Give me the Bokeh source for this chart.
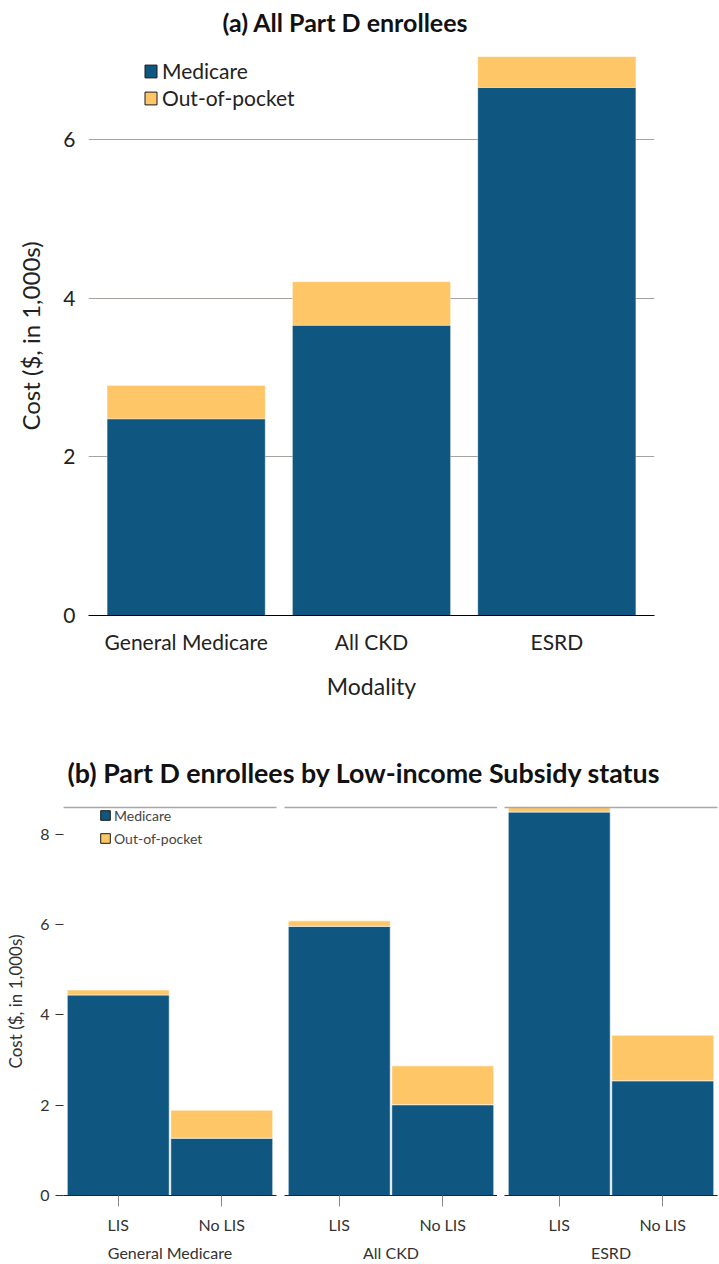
from bokeh.plotting import figure
from bokeh.models import (FactorRange, Range1d, Legend, LegendItem, CategoricalAxis,
                          ColumnDataSource, FixedTicker)
from bokeh.layouts import column, row
from bokeh.embed import file_html
from bokeh.resources import INLINE

FONT = "Lato"
BLUE = "#0f5680"
GOLD = "#fec666"
GRID = "#a8a29e"

# ---------------- data: panel (a) ----------------
modalities = ["General Medicare", "All CKD", "ESRD"]
medicare_all = [2.48, 3.66, 6.66]
oop_all = [0.42, 0.55, 0.39]

# ---------------- data: panel (b) ----------------
lis_groups = ["General Medicare", "All CKD", "ESRD"]
lis_status = ["LIS", "No LIS"]
medicare_lis = [4.44, 5.96, 8.49]
oop_lis = [0.11, 0.12, 0.10]
medicare_nolis = [1.27, 2.01, 2.54]
oop_nolis = [0.62, 0.86, 1.01]

series = ["medicare", "oop"]
series_labels = ["Medicare", "Out-of-pocket"]
colors = [BLUE, GOLD]

FRAME_LEFT_A = 88  # column layout aligns header frames with panel (a)'s frame


def header(text, height, top, size, left):
    h = figure(width=719, height=height, output_backend="svg", toolbar_location=None,
               x_range=Range1d(0, 1), y_range=Range1d(0, 1),
               min_border_left=0, min_border_right=0, min_border_bottom=0,
               min_border_top=top, x_axis_location=None, y_axis_location=None,
               title=text)
    h.outline_line_color = None
    h.grid.visible = False
    h.title.align = "left"
    h.title.offset = left - FRAME_LEFT_A
    h.title.text_font = FONT
    h.title.text_font_size = size
    h.title.text_font_style = "bold"
    h.title.text_color = "#111111"
    h.title.standoff = 9
    return h


def legend_keys(fig, category, y_end):
    # legend swatches: bars placed below the visible y-range so only the key shows
    keys = []
    for col in colors:
        keys.append(fig.vbar(x=[category], bottom=[-3 * y_end], top=[-2 * y_end], width=0.5,
                             fill_color=col, line_color="#1a1a1a", line_width=1))
    return keys


# ================= panel (a) =================
top_a = max(m + o for m, o in zip(medicare_all, oop_all))
src_a = ColumnDataSource(dict(modality=modalities, medicare=medicare_all, oop=oop_all))

ha = header("(a) All Part D enrollees", 44, 38, "25px", 222)

FRAME_A = 559
pa = figure(width=719, height=671, output_backend="svg", toolbar_location=None,
            x_range=FactorRange(*modalities, range_padding=0.018),
            y_range=Range1d(0, top_a),
            min_border_left=FRAME_LEFT_A, min_border_right=65, min_border_top=12,
            min_border_bottom=100)

ka = legend_keys(pa, modalities[0], top_a)

pa.vbar_stack(series, x="modality", width=0.853, source=src_a, fill_color=colors,
              line_color="white", line_alpha=0.35, line_width=1)

leg_a = Legend(items=[LegendItem(label=series_labels[0], renderers=[ka[0]]),
                      LegendItem(label=series_labels[1], renderers=[ka[1]])],
               location=(55, FRAME_A - 2 * 27 - 1), border_line_color=None,
               background_fill_alpha=0,
               padding=0, margin=0, spacing=0, glyph_width=15, glyph_height=16,
               label_height=27, label_standoff=4, label_text_font=FONT,
               label_text_font_size="21px", label_text_color="#222222")
pa.add_layout(leg_a)

pa.outline_line_color = None
pa.xgrid.grid_line_color = None
pa.ygrid.grid_line_color = GRID
pa.ygrid.ticker = FixedTicker(ticks=[0, 2, 4, 6])
pa.yaxis.ticker = FixedTicker(ticks=[0, 2, 4, 6])
pa.yaxis.axis_line_color = None
pa.yaxis.major_tick_line_color = None
pa.yaxis.minor_tick_line_color = None
pa.yaxis.major_label_standoff = 7
pa.yaxis.major_label_text_font = FONT
pa.yaxis.major_label_text_font_size = "21px"
pa.yaxis.major_label_text_color = "#222222"
pa.yaxis.axis_label = "Cost ($, in 1,000s)"
pa.yaxis.axis_label_text_font = FONT
pa.yaxis.axis_label_text_font_size = "24px"
pa.yaxis.axis_label_text_font_style = "normal"
pa.yaxis.axis_label_text_color = "#222222"
pa.yaxis.axis_label_standoff = 15
pa.xaxis.axis_line_color = "black"
pa.xaxis.major_tick_line_color = None
pa.xaxis.major_label_standoff = 7
pa.xaxis.major_label_text_font = FONT
pa.xaxis.major_label_text_font_size = "21px"
pa.xaxis.major_label_text_color = "#222222"
pa.xaxis.axis_label = "Modality"
pa.xaxis.axis_label_text_font = FONT
pa.xaxis.axis_label_text_font_size = "23px"
pa.xaxis.axis_label_text_font_style = "normal"
pa.xaxis.axis_label_text_color = "#222222"
pa.xaxis.axis_label_standoff = 15

# ================= header for panel (b) =================
hb = header("(b) Part D enrollees by Low-income Subsidy status", 80, 78, "26.8px", 67)

# ================= panel (b) facets =================
top_b = max(max(m + o for m, o in zip(medicare_lis, oop_lis)),
            max(m + o for m, o in zip(medicare_nolis, oop_nolis)))

FRAME_B = 388
widths = [277, 220, 222]
lefts = [63, 7, 7]
rights = [1, 0, 2]
panels = []
for i, grp in enumerate(lis_groups):
    src = ColumnDataSource(dict(status=lis_status,
                                medicare=[medicare_lis[i], medicare_nolis[i]],
                                oop=[oop_lis[i], oop_nolis[i]]))
    f = figure(width=widths[i], height=469, output_backend="svg", toolbar_location=None,
               x_range=FactorRange(*lis_status, range_padding=0.029),
               y_range=Range1d(0, top_b),
               min_border_left=lefts[i], min_border_right=rights[i],
               min_border_top=12, min_border_bottom=69,
               y_axis_location="left" if i == 0 else None)
    kb = legend_keys(f, lis_status[0], top_b) if i == 0 else None
    f.vbar_stack(series, x="status", width=0.985, source=src, fill_color=colors,
                 line_color="white", line_alpha=0.6, line_width=1)
    f.outline_line_color = None
    f.grid.grid_line_color = None

    ax = f.below[0]
    ax.axis_line_color = "#222222"
    ax.axis_line_width = 1.2
    ax.major_tick_in = 0
    ax.major_tick_out = 11
    ax.major_tick_line_color = "#888888"
    ax.major_label_standoff = 8
    ax.major_label_text_font = FONT
    ax.major_label_text_font_size = "16px"
    ax.major_label_text_color = "#333333"
    ax.axis_label = grp
    ax.axis_label_text_font = FONT
    ax.axis_label_text_font_size = "16px"
    ax.axis_label_text_font_style = "normal"
    ax.axis_label_text_color = "#333333"
    ax.axis_label_standoff = 6

    up = CategoricalAxis(axis_line_color="#a8a8a8", axis_line_width=1.5,
                         major_tick_line_color=None, minor_tick_line_color=None,
                         major_label_text_font_size="0px", major_label_text_alpha=0,
                         major_label_standoff=0)
    f.add_layout(up, "above")

    if i == 0:
        f.yaxis.ticker = FixedTicker(ticks=[0, 2, 4, 6, 8])
        f.yaxis.axis_line_color = None
        f.yaxis.major_tick_in = 0
        f.yaxis.major_tick_out = 8
        f.yaxis.major_tick_line_color = "#333333"
        f.yaxis.minor_tick_line_color = None
        f.yaxis.major_label_standoff = 6
        f.yaxis.major_label_text_font = FONT
        f.yaxis.major_label_text_font_size = "16px"
        f.yaxis.major_label_text_color = "#333333"
        f.yaxis.axis_label = "Cost ($, in 1,000s)"
        f.yaxis.axis_label_text_font = FONT
        f.yaxis.axis_label_text_font_size = "17px"
        f.yaxis.axis_label_text_font_style = "normal"
        f.yaxis.axis_label_text_color = "#333333"
        f.yaxis.axis_label_standoff = 11

        leg_b = Legend(items=[LegendItem(label=series_labels[0], renderers=[kb[0]]),
                              LegendItem(label=series_labels[1], renderers=[kb[1]])],
                       location=(36, 348), border_line_color=None,
                       background_fill_alpha=0,
                       padding=0, margin=0, spacing=5, glyph_width=12, glyph_height=12,
                       label_height=18, label_standoff=3, label_text_font=FONT,
                       label_text_font_size="14px", label_text_color="#444444")
        f.add_layout(leg_b)
    panels.append(f)

layout = column(ha, pa, hb, row(*panels, spacing=0), spacing=0)

with open("out.html", "w") as fh:
    fh.write(file_html(layout, INLINE))
